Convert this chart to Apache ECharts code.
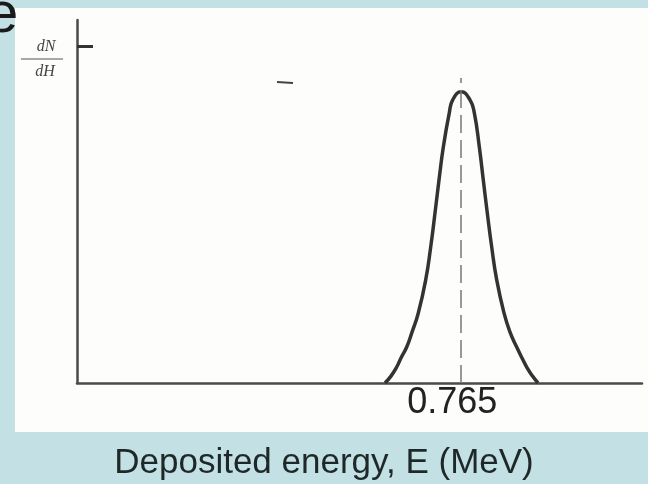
<!DOCTYPE html>
<html>
<head>
<meta charset="utf-8">
<script src="https://cdn.jsdelivr.net/npm/echarts@6/dist/echarts.min.js"></script>
<style>html,body{margin:0;padding:0;background:#c3e0e5;}#c{width:648px;height:484px;}</style>
</head>
<body>
<div id="c"></div>
<script>
// Deposited energy (MeV) and relative dN/dH
var energy = [0.6133, 0.6252, 0.6366, 0.6451, 0.6565, 0.6671, 0.6796, 0.6943, 0.7043, 0.7128, 0.7208, 0.7294, 0.7413, 0.7481, 0.765, 0.7825, 0.7911, 0.8011, 0.8090, 0.8170, 0.8257, 0.8357, 0.8502, 0.8622, 0.8755, 0.8861, 0.8954, 0.9070, 0.9179];
var counts = [0.000, 0.019, 0.044, 0.069, 0.099, 0.140, 0.193, 0.284, 0.375, 0.468, 0.559, 0.650, 0.744, 0.780, 0.8025, 0.780, 0.744, 0.650, 0.559, 0.468, 0.375, 0.284, 0.193, 0.140, 0.099, 0.069, 0.044, 0.019, 0.000];
var peakEnergy = 0.765;
var peakLabel = '0.765';
var yTickValue = 0.928;
var xTitle = 'Deposited energy, E (MeV)';
var yTop = 'dN';
var yBottom = 'dH';

var chart = echarts.init(document.getElementById('c'), null, {renderer: 'canvas'});
var pts = energy.map(function (e, i) { return [e, counts[i]]; });
chart.setOption({
  backgroundColor: '#c3e0e5',
  animation: false,
  grid: {left: 77, right: 6, top: 20, bottom: 101},
  xAxis: {
    type: 'value', min: 0, max: 1.125,
    axisLine: {show: true, lineStyle: {color: '#4a4a4a', width: 2.5}},
    axisTick: {show: false},
    splitLine: {show: false},
    axisLabel: {customValues: [peakEnergy], formatter: function () { return peakLabel; },
      fontFamily: 'Liberation Sans, Arial, sans-serif', fontSize: 36, color: '#222', margin: 2,
      padding: [0, 18, 0, 0]}
  },
  yAxis: {
    type: 'value', min: 0, max: 1,
    axisLine: {show: true, lineStyle: {color: '#4a4a4a', width: 2.5}},
    axisTick: {show: true, inside: true, length: 16, customValues: [yTickValue], lineStyle: {color: '#333', width: 3}},
    axisLabel: {show: false},
    splitLine: {show: false}
  },
  graphic: [
    {type: 'rect', z: -10, shape: {x: 15, y: 8, width: 640, height: 424}, style: {fill: '#fdfdfb'}},
    {type: 'text', left: -14, top: -13, style: {text: 'e', font: '58px "Liberation Sans", Arial, sans-serif', fill: '#1a1a1a'}},
    {type: 'text', x: 46, y: 47, style: {text: yTop, font: 'italic 16px "Liberation Serif", serif', fill: '#444', textAlign: 'center', textVerticalAlign: 'middle'}},
    {type: 'line', shape: {x1: 21, y1: 59, x2: 63, y2: 59}, style: {stroke: '#555', lineWidth: 1.2}},
    {type: 'text', x: 45, y: 72, style: {text: yBottom, font: 'italic 16px "Liberation Serif", serif', fill: '#444', textAlign: 'center', textVerticalAlign: 'middle'}},
    {type: 'line', shape: {x1: 277, y1: 82, x2: 293, y2: 83}, style: {stroke: '#444', lineWidth: 2}},
    {type: 'text', x: 324, y: 463, style: {text: xTitle, font: '35px "Liberation Sans", Arial, sans-serif', fill: '#1e2828', textAlign: 'center', textVerticalAlign: 'middle'}}
  ],
  series: [{
    type: 'line', data: pts, smooth: 0.5, symbol: 'none',
    lineStyle: {color: '#333', width: 3.5},
    markLine: {
      silent: true, symbol: 'none', label: {show: false},
      lineStyle: {color: '#777', width: 1.5, type: [18, 7]},
      data: [[{coord: [peakEnergy, 0]}, {coord: [peakEnergy, 0.84]}]]
    }
  }]
});
</script>
</body>
</html>
